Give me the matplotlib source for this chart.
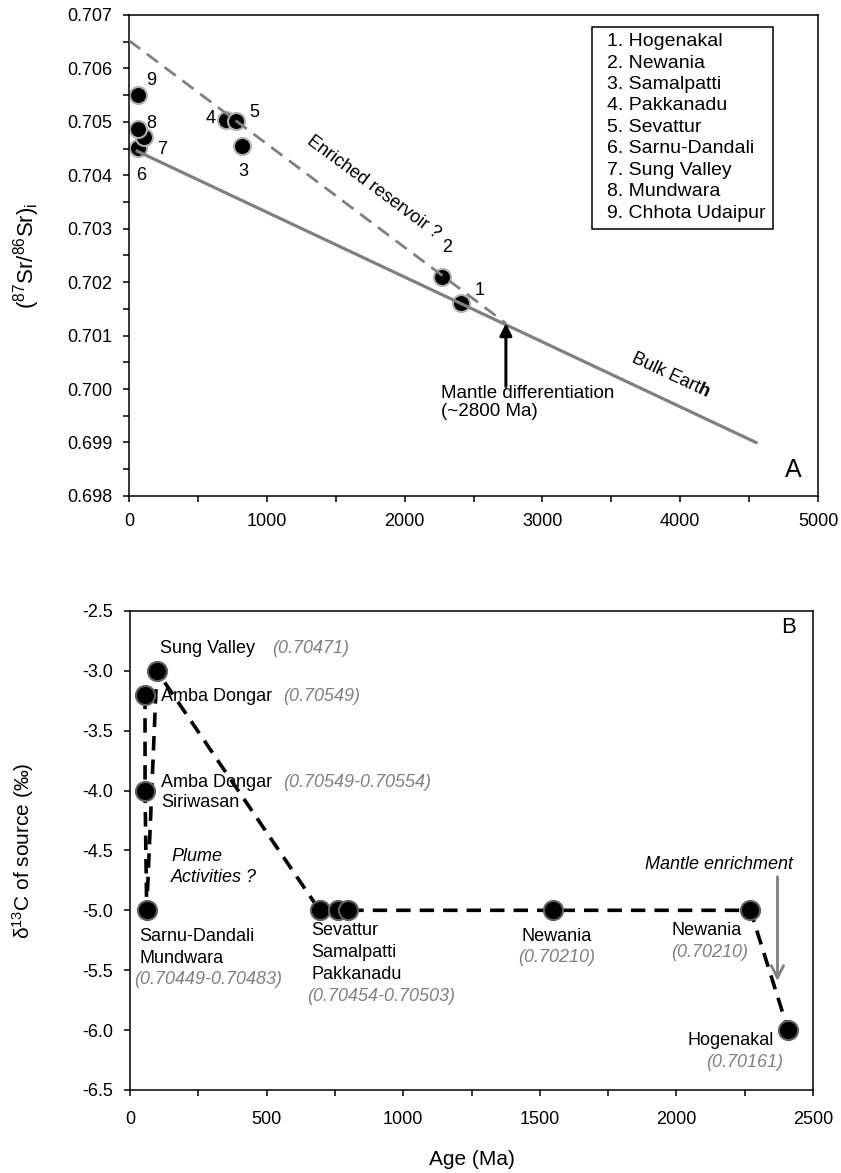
import matplotlib
matplotlib.use("Agg")
import matplotlib.pyplot as plt
from matplotlib.patches import Rectangle
from matplotlib.ticker import MultipleLocator, FormatStrFormatter

plt.rcParams['font.family'] = ['Liberation Sans', 'DejaVu Sans']
plt.rcParams['axes.unicode_minus'] = False
plt.rcParams['mathtext.fontset'] = 'custom'
plt.rcParams['mathtext.rm'] = 'Liberation Sans'
plt.rcParams['mathtext.it'] = 'Liberation Sans:italic'
plt.rcParams['mathtext.bf'] = 'Liberation Sans:bold'

# ---- panel A data: numbered localities, age (Ma) vs initial 87Sr/86Sr
site_names = ["Hogenakal", "Newania", "Samalpatti", "Pakkanadu", "Sevattur",
              "Sarnu-Dandali", "Sung Valley", "Mundwara", "Chhota Udaipur"]
age_a = [2410, 2270, 820, 704, 776, 65, 109, 65, 65]
sr_a = [0.70161, 0.70210, 0.70455, 0.70503, 0.70502, 0.70451, 0.70471, 0.70487, 0.70550]
num_x = [2547, 2305, 829, 593, 907, 85, 242, 164, 164]
num_y = [0.70185, 0.70265, 0.70407, 0.70507, 0.70517, 0.70399, 0.70448, 0.70497, 0.70578]

bulk_age = [60, 4550]
bulk_sr = [0.70445, 0.69900]
enr_age = [0, 2735]
enr_sr = [0.70652, 0.70123]

# ---- panel B data: age (Ma) vs d13C of source, in line order
age_b = [55, 55, 61, 98, 694, 763, 797, 1550, 2271, 2409]
d13c_b = [-3.2, -4.0, -5.0, -3.0, -5.0, -5.0, -5.0, -5.0, -5.0, -6.0]

grey = "#808080"
fs = 13

fig = plt.figure(figsize=(8.41, 11.73), dpi=100)

# ================= panel A =================
ax = fig.add_axes([0.1534, 0.5772, 0.8193, 0.4101])
ax.scatter(age_a, sr_a, s=150, c="black", edgecolors="#b0b0b0", linewidths=1.5, zorder=2)
ax.plot(bulk_age, bulk_sr, color=grey, lw=2.3, zorder=3)
ax.plot(enr_age, enr_sr, color=grey, lw=2.0, ls=(0, (5, 3)), zorder=3)

for i in range(len(site_names)):
    ax.text(num_x[i], num_y[i], str(i + 1), fontsize=fs, ha="center", va="center")

ax.text(1778, 0.70378, "Enriched reservoir ?", fontsize=fs, rotation=-36.5,
        ha="center", va="center", rotation_mode="anchor")
ax.text(3926, 0.70026, r"Bulk Eart$\mathbf{h}$", fontsize=fs, rotation=-25,
        ha="center", va="center", rotation_mode="anchor")
ax.annotate("", xy=(2735, 0.70123), xytext=(2735, 0.70005),
            arrowprops=dict(arrowstyle="-|>", color="black", lw=2.2,
                            mutation_scale=18, shrinkA=0, shrinkB=0))
ax.text(2264, 0.69975, "Mantle differentiation\n(~2800 Ma)", fontsize=13.5,
        ha="left", va="center", linespacing=1.1)
ax.text(4819, 0.69848, "A", fontsize=18, ha="center", va="center")

# numbered key box
ax.add_patch(Rectangle((0.6716, 0.555), 0.2631, 0.42, transform=ax.transAxes,
                       fill=False, edgecolor="black", lw=1.1, zorder=4))
for i, name in enumerate(site_names):
    ax.text(0.6938, 0.9445 - i * 0.0446, f"{i + 1}. {name}", fontsize=14,
            ha="left", va="center", transform=ax.transAxes)

ax.set_xlim(0, 5000)
ax.set_ylim(0.698, 0.707)
ax.xaxis.set_major_locator(MultipleLocator(1000))
ax.xaxis.set_minor_locator(MultipleLocator(500))
ax.yaxis.set_major_locator(MultipleLocator(0.001))
ax.yaxis.set_minor_locator(MultipleLocator(0.0005))
ax.yaxis.set_major_formatter(FormatStrFormatter("%.3f"))
ax.tick_params(which="both", direction="out", length=4, width=1.1, labelsize=13)
ax.tick_params(axis="y", pad=8)
ax.tick_params(axis="x", pad=8)
for s in ax.spines.values():
    s.set_linewidth(1.1)
ax.set_ylabel(r"($^{87}$Sr/$^{86}$Sr)$_{\mathregular{i}}$", fontsize=16)
ax.yaxis.set_label_coords(-0.127, 0.5)

# ================= panel B =================
bx = fig.add_axes([0.1546, 0.0708, 0.8121, 0.4084])
bx.plot(age_b, d13c_b, color="black", lw=2.6, ls=(0, (4, 2.5)), zorder=2)
bx.scatter(age_b, d13c_b, s=190, c="black", edgecolors="#606060", linewidths=1.5, zorder=3)

def lab(x, y, s, ha="left", color="black", style="normal"):
    bx.text(x, y, s, fontsize=fs, ha=ha, va="center", color=color, style=style)

lab(110, -2.817, "Sung Valley")
lab(521, -2.817, "(0.70471)", color=grey, style="italic")
lab(113, -3.214, "Amba Dongar")
lab(561, -3.214, "(0.70549)", color=grey, style="italic")
lab(113, -3.93, "Amba Dongar")
lab(113, -4.10, "Siriwasan")
lab(561, -3.93, "(0.70549-0.70554)", color=grey, style="italic")
lab(150, -4.547, "Plume", style="italic")
lab(150, -4.728, "Activities ?", style="italic")
lab(33, -5.22, "Sarnu-Dandali")
lab(33, -5.40, "Mundwara")
lab(15, -5.575, "(0.70449-0.70483)", color=grey, style="italic")
lab(665, -5.17, "Sevattur")
lab(665, -5.355, "Samalpatti")
lab(665, -5.54, "Pakkanadu")
lab(650, -5.72, "(0.70454-0.70503)", color=grey, style="italic")
lab(1563, -5.22, "Newania", ha="center")
lab(1563, -5.39, "(0.70210)", ha="center", color=grey, style="italic")
lab(2110, -5.17, "Newania", ha="center")
lab(2120, -5.35, "(0.70210)", ha="center", color=grey, style="italic")
lab(2358, -6.09, "Hogenakal", ha="right")
lab(2390, -6.27, "(0.70161)", ha="right", color=grey, style="italic")
lab(2426, -4.62, "Mantle enrichment", ha="right", style="italic")
bx.annotate("", xy=(2370, -5.59), xytext=(2370, -4.72),
            arrowprops=dict(arrowstyle="->", color=grey, lw=2.0,
                            mutation_scale=22, shrinkA=0, shrinkB=0))
bx.text(2411, -2.64, "B", fontsize=16, ha="center", va="center")

bx.set_xlim(0, 2500)
bx.set_ylim(-6.5, -2.5)
bx.xaxis.set_major_locator(MultipleLocator(500))
bx.xaxis.set_minor_locator(MultipleLocator(250))
bx.yaxis.set_major_locator(MultipleLocator(0.5))
bx.yaxis.set_major_formatter(FormatStrFormatter("%.1f"))
bx.tick_params(which="both", direction="out", length=4, width=1.1, labelsize=13)
bx.tick_params(axis="y", pad=8)
bx.tick_params(axis="x", pad=11)
for s in bx.spines.values():
    s.set_linewidth(1.1)
bx.set_ylabel("δ$^{13}$C of source (‰)", fontsize=15)
bx.yaxis.set_label_coords(-0.137, 0.5)
bx.set_xlabel("Age (Ma)", fontsize=15)
bx.xaxis.set_label_coords(0.5, -0.125)

fig.savefig("out.png", dpi=100)
